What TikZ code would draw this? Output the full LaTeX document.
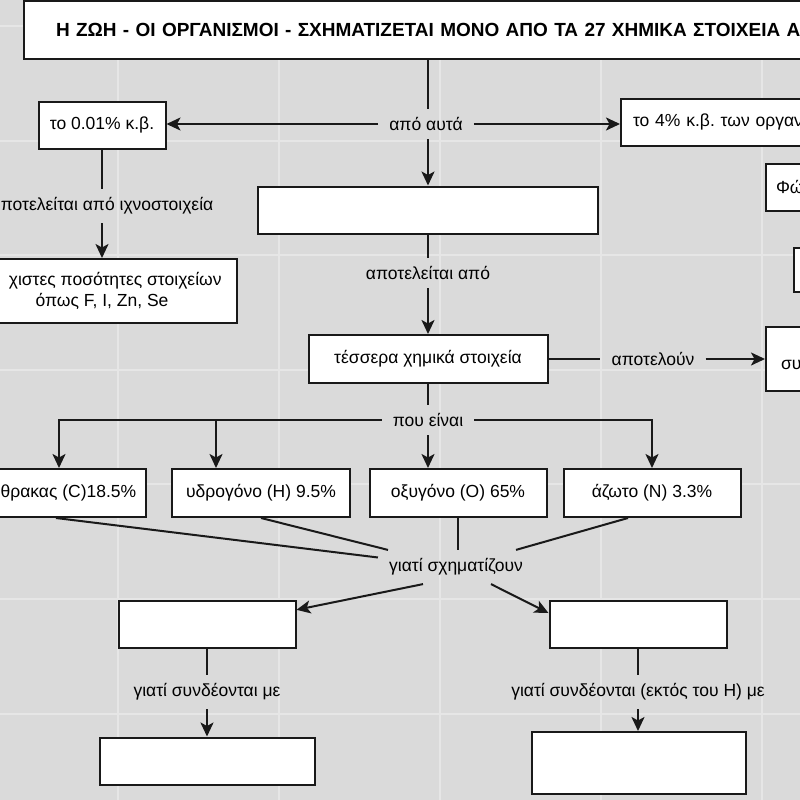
\documentclass[tikz,border=0pt]{standalone}
\usepackage{fontspec}
\setmainfont{Liberation Sans}
\usetikzlibrary{arrows.meta}
\definecolor{pagegray}{HTML}{DADADA}
\definecolor{gridgray}{HTML}{E6E6E6}
\tikzset{
  box/.style={draw=black!90,line width=2pt,fill=white,minimum height=47pt,inner sep=0pt,font=\fontsize{17.5}{21}\selectfont},
  lbl/.style={inner xsep=11pt,inner ysep=8.5pt,font=\fontsize{17.5}{21}\selectfont},
  con/.style={line width=2pt,black!90},
  arr/.style={con,-{Stealth[length=14pt,width=13pt,inset=3.5pt]}},
}
\frenchspacing

\begin{document}
\begin{tikzpicture}[x=1pt,y=-1pt]
  \fill[pagegray] (0,0) rectangle (800,800);
  \useasboundingbox (0,0) rectangle (800,800);
  \clip (0,0) rectangle (800,800);
  \foreach \gx in {118,279,440,601,762}
    \draw[gridgray,line width=1.5pt] (\gx,0) -- (\gx,800);
  \foreach \gy in {26,141,255,370,484,599,714}
    \draw[gridgray,line width=1.5pt] (0,\gy) -- (800,\gy);

  % boxes
  \node[box,anchor=west,minimum height=58pt,text width=800pt,inner xsep=32pt,align=left,font=\fontsize{19}{22}\selectfont\bfseries] (title) at (23,30) {Η ΖΩΗ - ΟΙ ΟΡΓΑΝΙΣΜΟΙ - ΣΧΗΜΑΤΙΖΕΤΑΙ ΜΟΝΟ ΑΠΟ ΤΑ 27 ΧΗΜΙΚΑ ΣΤΟΙΧΕΙΑ Α};
  \node[box,minimum width=127pt] (kb001) at (102,125) {το 0.01\% κ.β.};
  \node[box,anchor=west,text width=220pt,inner xsep=12pt,align=left] (kb4) at (620,122) {το 4\% κ.β. των οργαν};
  \node[box,minimum width=340pt] (empty1) at (428,210) {};
  \node[box,minimum width=270pt,minimum height=64pt,align=center] (traces) at (102,291) {\hphantom{ελά}χιστες ποσότητες στοιχείων\\όπως F, I, Zn, Se};
  \node[box,anchor=west,text width=60pt,inner xsep=10pt,align=left] (fos) at (765,187) {Φώ};
  \node[box,anchor=west,minimum width=60pt,minimum height=44pt] (third) at (793,270) {};
  \node[box,minimum width=239pt,minimum height=48pt] (four) at (428,359) {τέσσερα χημικά στοιχεία};
  \node[box,anchor=west,text width=80pt,inner xsep=15pt,minimum height=64pt,align=left] (sys) at (765,359) {\mbox{}\\συ};

  % elements
  \node[box,minimum width=174pt,minimum height=48pt] (carbon) at (59,493) {\hphantom{άν}θρακας (C)18.5\%};
  \node[box,minimum width=178pt,minimum height=48pt] (hydro) at (261,493) {υδρογόνο (H) 9.5\%};
  \node[box,minimum width=177pt,minimum height=48pt] (oxy) at (458,493) {οξυγόνο (O) 65\%};
  \node[box,minimum width=177pt,minimum height=48pt] (nitro) at (652,493) {άζωτο (N) 3.3\%};
  \node[box,minimum width=177pt] (outL) at (207,624) {};
  \node[box,minimum width=177pt] (outR) at (638,624) {};
  \node[box,minimum width=215pt] (endL) at (207,761) {};
  \node[box,minimum width=214pt,minimum height=62pt] (endR) at (639,763) {};

  % labels
  \node[lbl] (fromthese) at (426,124) {από αυτά};
  \node[lbl] (trace) at (102,206) {\hphantom{α}ποτελείται από ιχνοστοιχεία};
  \node[lbl] (consists) at (428,273) {αποτελείται από};
  \node[lbl] (form) at (653,359) {αποτελούν};
  \node[lbl] (whichare) at (428,420) {που είναι};
  \node[lbl] (because) at (456,567) {γιατί σχηματίζουν};
  \node[lbl] (bondL) at (207,692) {γιατί συνδέονται με};
  \node[lbl] (bondR) at (638,692) {γιατί συνδέονται (εκτός του H) με};

  % connectors
  \draw[con] (title.south -| four) -- (four |- fromthese.north);
  \draw[arr] (fromthese.west) -- (fromthese.west -| kb001.east);
  \draw[arr] (fromthese.east) -- (fromthese.east -| kb4.west);
  \draw[arr] (four |- fromthese.south) -- (empty1);
  \draw[con] (kb001) -- (trace);
  \draw[arr] (trace) -- (traces);
  \draw[con] (empty1) -- (consists);
  \draw[arr] (consists) -- (four);
  \draw[con] (four) -- (form);
  \draw[arr] (form) -- (form -| sys.west);
  \draw[con] (four) -- (whichare);
  \coordinate (hydroIn) at ([xshift=45pt]hydro.north west);
  \draw[arr] (whichare.west) -| (carbon.north);
  \draw[arr] (whichare.west -| hydroIn) -- (hydroIn);
  \draw[arr] (whichare) -- (whichare |- oxy.north);
  \draw[arr] (whichare.east) -| (nitro.north);
  \draw[con] ([xshift=-3pt]carbon.south) -- (because);
  \draw[con] (hydro.south) -- (because);
  \draw[con] (oxy.south) -- (oxy.south |- because.north);
  \draw[con] ([xshift=-24pt]nitro.south) -- (because);
  \draw[arr] ([xshift=-33pt]because.south) -- (outL.9);
  \draw[arr] ([xshift=35pt]because.south) -- (outR.173);
  \draw[con] (outL) -- (bondL);
  \draw[arr] (bondL) -- (endL);
  \draw[con] (outR) -- (bondR);
  \draw[arr] (bondR) -- (bondR |- endR.north);
\end{tikzpicture}
\end{document}
